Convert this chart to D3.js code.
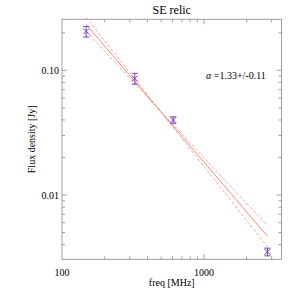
<!DOCTYPE html>
<html>
<head>
<meta charset="utf-8">
<script src="https://cdn.jsdelivr.net/npm/d3@7"></script>
<style>
  body { margin: 0; background: #fff; }
  text { font-family: "Liberation Serif", "DejaVu Serif", serif; fill: #000; }
</style>
</head>
<body>
<div id="plot"></div>
<script>
// measured points
var freqs = [148, 326, 608, 2800]
var fluxes = [0.205, 0.086, 0.040, 0.0035]
var fluxErrs = [0.020, 0.0086, 0.0024, 0.00025]

// power-law fit S = S0 * (nu/nu0)^-alpha
var alpha = 1.33
var alphaErr = 0.11
var pivotFreq = 480
var pivotFlux = 0.0488

var xMajor = [100, 1000]
var xMajorLabels = ["100", "1000"]
var xMinor = [200, 300, 400, 500, 600, 700, 800, 900, 2000, 3000]
var yMajor = [0.01, 0.1]
var yMajorLabels = ["0.01", "0.10"]
var yMinor = [0.004, 0.005, 0.006, 0.007, 0.008, 0.009, 0.02, 0.03, 0.04, 0.05, 0.06, 0.07, 0.08, 0.09, 0.2]

var chartWidth = 300
var chartHeight = 300
var margin = {top: 19.3, right: 18.5, bottom: 40.7, left: 62}
var width = chartWidth - margin.left - margin.right
var height = chartHeight - margin.top - margin.bottom

var x = d3.scaleLog()
  .domain([100, 3520])
  .range([0, width])

var y = d3.scaleLog()
  .domain([0.00305, 0.2566])
  .range([height, 0])

var svg = d3.select("#plot")
  .append("svg")
  .attr("width", chartWidth)
  .attr("height", chartHeight)

var main = svg.append("g")
  .attr("transform", "translate(" + margin.left + "," + margin.top + ")")

// frame
main.append("rect")
  .attr("width", width)
  .attr("height", height)
  .attr("fill", "none")
  .attr("stroke", "#888")
  .attr("stroke-width", 0.8)

// inward ticks on all four sides
function xticks(vals, len) {
  main.selectAll(null).data(vals).enter().append("path")
    .attr("d", function (d) {
      var px = x(d)
      return "M" + px + "," + height + "v" + (-len) + "M" + px + ",0v" + len
    })
    .attr("stroke", "#888").attr("stroke-width", 0.8)
}
function yticks(vals, len) {
  main.selectAll(null).data(vals).enter().append("path")
    .attr("d", function (d) {
      var py = y(d)
      return "M0," + py + "h" + len + "M" + width + "," + py + "h" + (-len)
    })
    .attr("stroke", "#888").attr("stroke-width", 0.8)
}
xticks(xMajor.filter(function (d) { return d > 100 }), 5)
xticks(xMinor, 3)
yticks(yMajor, 5)
yticks(yMinor, 3)

main.selectAll(".xlab").data(xMajor).enter().append("text")
  .attr("x", function (d) { return x(d) })
  .attr("y", height + 17)
  .attr("text-anchor", "middle")
  .attr("font-size", 10)
  .text(function (d, i) { return xMajorLabels[i] })

main.selectAll(".ylab").data(yMajor).enter().append("text")
  .attr("x", -3)
  .attr("y", function (d) { return y(d) + 3.5 })
  .attr("text-anchor", "end")
  .attr("font-size", 10)
  .text(function (d, i) { return yMajorLabels[i] })

// fit lines
var fitRange = [d3.min(freqs), d3.max(freqs)]
var fits = [
  {a: alpha, dash: null, op: 1},
  {a: alpha - alphaErr, dash: "3,2", op: 0.8},
  {a: alpha + alphaErr, dash: "3,2", op: 0.8}
]
var line = d3.line()
  .x(function (d) { return x(d[0]) })
  .y(function (d) { return y(d[1]) })

fits.forEach(function (f) {
  var pts = fitRange.map(function (nu) {
    return [nu, pivotFlux * Math.pow(nu / pivotFreq, -f.a)]
  })
  main.append("path")
    .attr("d", line(pts))
    .attr("fill", "none")
    .attr("stroke", "#ff7f6e")
    .attr("stroke-opacity", f.op)
    .attr("stroke-width", 0.9)
    .attr("stroke-dasharray", f.dash)
})

// data points with error bars
var data = []
for (var i = 0; i < freqs.length; i++) {
  data.push([freqs[i], fluxes[i], fluxErrs[i]])
}
var pts = main.selectAll(".pt").data(data).enter().append("g")
  .attr("stroke", "#7b3fbf")
  .attr("stroke-width", 1)
  .attr("fill", "none")

pts.append("path")
  .attr("d", function (d) {
    var px = x(d[0])
    var y1 = y(d[1] + d[2]), y2 = y(d[1] - d[2])
    return "M" + px + "," + y1 + "V" + y2 +
      "M" + (px - 3) + "," + y1 + "h6" +
      "M" + (px - 3) + "," + y2 + "h6"
  })

pts.append("path")
  .attr("d", function (d) {
    var px = x(d[0]), py = y(d[1]), s = 3
    return "M" + (px - s) + "," + (py - s) + "l" + 2 * s + "," + 2 * s +
      "M" + (px - s) + "," + (py + s) + "l" + 2 * s + "," + (-2 * s)
  })

// texts
svg.append("text")
  .attr("x", margin.left + width / 2)
  .attr("y", 14)
  .attr("text-anchor", "middle")
  .attr("font-size", 12)
  .text("SE relic")

svg.append("text")
  .attr("x", margin.left + width / 2)
  .attr("y", 286)
  .attr("text-anchor", "middle")
  .attr("font-size", 10)
  .text("freq [MHz]")

svg.append("text")
  .attr("transform", "translate(35," + (margin.top + height / 2) + ") rotate(-90)")
  .attr("text-anchor", "middle")
  .attr("font-size", 10)
  .text("Flux density [Jy]")

var at = svg.append("text")
  .attr("x", 206)
  .attr("y", 79)
  .attr("font-size", 10)
at.append("tspan").attr("font-style", "italic").text("\u03b1")
at.append("tspan").text(" =" + alpha.toFixed(2) + "+/-" + alphaErr.toFixed(2))
</script>
</body>
</html>
